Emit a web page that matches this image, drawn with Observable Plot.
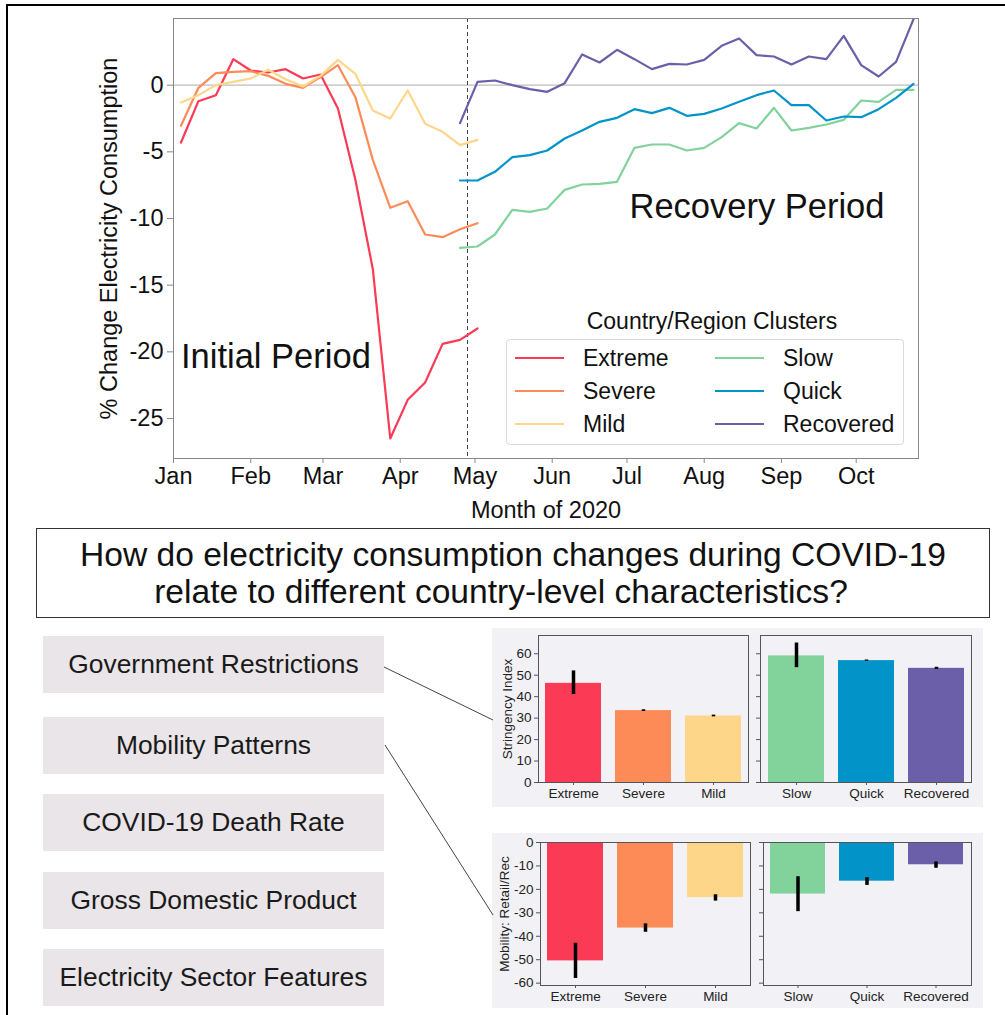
<!DOCTYPE html>
<html><head><meta charset="utf-8">
<script src="https://cdn.jsdelivr.net/npm/d3@7"></script>
<script src="https://cdn.jsdelivr.net/npm/@observablehq/plot@0.6"></script>
<style>
body{margin:0;background:#fff;font-family:"Liberation Sans",Arial,sans-serif;color:#111;}
#fig{position:relative;width:1005px;height:1015px;overflow:hidden;background:#fff;}
.abs{position:absolute;}
.box{position:absolute;background:#e9e5e8;display:flex;align-items:center;justify-content:center;font-size:26.4px;color:#1a1a1a;white-space:nowrap;}
</style></head><body><div id="fig"></div>
<script>
// ---------- data ----------
const clusters = ["Extreme","Severe","Mild","Slow","Quick","Recovered"];
const clusterColors = ["#fb3a55","#fd8b57","#fed68a","#82d29c","#0294c8","#6b5fa9"];

const initialDates = ["2020-01-04","2020-01-11","2020-01-18","2020-01-25","2020-02-01","2020-02-08","2020-02-15","2020-02-22","2020-02-29","2020-03-07","2020-03-14","2020-03-21","2020-03-28","2020-04-04","2020-04-11","2020-04-18","2020-04-25","2020-05-02"];
const extremeInitial = [-4.3,-1.2,-0.75,1.95,1.1,0.95,1.2,0.5,0.8,-1.75,-7.1,-13.8,-26.5,-23.6,-22.3,-19.4,-19.1,-18.25];
const severeInitial  = [-3.05,-0.2,0.9,1.0,1.05,0.7,0.1,-0.2,0.6,1.5,-0.9,-5.6,-9.2,-8.7,-11.2,-11.4,-10.8,-10.35];
const mildInitial    = [-1.3,-0.75,0.0,0.25,0.5,1.15,0.45,-0.1,0.7,1.9,0.85,-1.9,-2.5,-0.4,-2.9,-3.5,-4.5,-4.1];

const recoveryDates = ["2020-04-25","2020-05-02","2020-05-09","2020-05-16","2020-05-23","2020-05-30","2020-06-06","2020-06-13","2020-06-20","2020-06-27","2020-07-04","2020-07-11","2020-07-18","2020-07-25","2020-08-01","2020-08-08","2020-08-15","2020-08-22","2020-08-29","2020-09-05","2020-09-12","2020-09-19","2020-09-26","2020-10-03","2020-10-10","2020-10-17","2020-10-24"];
const slowRecovery      = [-12.2,-12.1,-11.2,-9.35,-9.5,-9.25,-7.85,-7.45,-7.4,-7.25,-4.7,-4.45,-4.45,-4.9,-4.7,-3.9,-2.85,-3.25,-1.7,-3.4,-3.2,-2.95,-2.6,-1.15,-1.25,-0.35,-0.35];
const quickRecovery     = [-7.15,-7.15,-6.5,-5.4,-5.25,-4.9,-4.0,-3.4,-2.75,-2.45,-1.8,-2.1,-1.7,-2.3,-2.15,-1.75,-1.25,-0.75,-0.4,-1.5,-1.5,-2.65,-2.35,-2.4,-1.8,-0.95,0.1];
const recoveredRecovery = [-2.85,0.25,0.35,0.0,-0.3,-0.5,0.15,2.3,1.7,2.65,1.95,1.2,1.6,1.55,1.9,2.95,3.5,2.25,2.15,1.55,2.15,1.95,3.7,1.5,0.65,1.75,4.95];

const monthTicks = ["2020-01-01","2020-02-01","2020-03-01","2020-04-01","2020-05-01","2020-06-01","2020-07-01","2020-08-01","2020-09-01","2020-10-01"];
const yTicks = [-25,-20,-15,-10,-5,0];
const periodBoundary = "2020-04-28";
const annotations = [
  {date:"2020-01-04", value:-20.4, text:"Initial Period"},
  {date:"2020-07-02", value:-9.15, text:"Recovery Period"}
];

const stringencyMean = [46.2,33.5,31.0,59.0,56.8,53.2];
const stringencyLow  = [41.0,33.1,30.6,53.5,56.5,52.7];
const stringencyHigh = [52.0,33.9,31.4,65.0,57.1,53.7];
const stringencyTicks = [0,10,20,30,40,50,60];

const mobilityMean = [-50.5,-36.5,-23.5,-22.0,-16.5,-9.5];
const mobilityLow  = [-58.0,-38.3,-25.0,-29.5,-18.3,-11.0];
const mobilityHigh = [-43.0,-34.7,-22.3,-14.6,-15.0,-8.3];
const mobilityTicks = [-60,-50,-40,-30,-20,-10,0];

const characteristics = ["Government Restrictions","Mobility Patterns","COVID-19 Death Rate","Gross Domestic Product","Electricity Sector Features"];
const questionLines = ["How do electricity consumption changes during COVID-19","relate to different country-level characteristics?"];

// ---------- helpers ----------
const fig = document.getElementById("fig");
const FONT = '"Liberation Sans", Arial, sans-serif';
function place(el, left, top) {
  const d = document.createElement("div");
  d.className = "abs"; d.style.left = left + "px"; d.style.top = top + "px";
  d.appendChild(el); fig.appendChild(d); return d;
}
const colorOf = Object.fromEntries(clusters.map((c,i)=>[c, clusterColors[i]]));

// ---------- main line chart ----------
const lineData = [];
[["Extreme",extremeInitial],["Severe",severeInitial],["Mild",mildInitial]].forEach(([c,arr])=>{
  arr.forEach((v,i)=>lineData.push({date:new Date(initialDates[i]), value:v, cluster:c, seg:c+"-initial"}));
});
[["Slow",slowRecovery],["Quick",quickRecovery],["Recovered",recoveredRecovery]].forEach(([c,arr])=>{
  arr.forEach((v,i)=>lineData.push({date:new Date(recoveryDates[i]), value:v, cluster:c, seg:c+"-recovery"}));
});

const main = Plot.plot({
  width: 1005, height: 530,
  marginLeft: 173, marginRight: 87, marginTop: 18, marginBottom: 72,
  style: {fontFamily: FONT, fontSize: "23.5px", background: "transparent", color: "#111"},
  x: {type: "utc", domain: [new Date("2020-01-01"), new Date("2020-10-26")]},
  y: {domain: [-28, 5]},
  color: {domain: clusters, range: clusterColors},
  marks: [
    Plot.ruleY([0], {stroke: "#bdbdbd", strokeWidth: 1.3}),
    Plot.ruleX([new Date(periodBoundary)], {stroke: "#444", strokeWidth: 1, strokeDasharray: "4,3"}),
    Plot.line(lineData, {x: "date", y: "value", z: "seg", stroke: "cluster", strokeWidth: 2.2}),
    Plot.text(annotations, {x: d => new Date(d.date), y: "value", text: "text", textAnchor: "start", lineAnchor: "middle", fontSize: 34.5, fill: "#111"}),
    Plot.frame({stroke: "#888"}),
    Plot.axisX({ticks: monthTicks.map(d => new Date(d)), tickFormat: d3.utcFormat("%b"), tickSize: 5, tickPadding: 4, stroke: "#888", fill: "#111",
                label: "Month of 2020", labelAnchor: "center", labelOffset: 59, labelArrow: "none"}),
    Plot.axisY({ticks: yTicks, tickFormat: d => String(d), tickSize: 6, tickPadding: 4, stroke: "#888", fill: "#111",
                label: "% Change Electricity Consumption", labelAnchor: "center", labelOffset: 73, labelArrow: "none"})
  ]
});
place(main, 0, 0);

// ---------- legend ----------
const legTitle = document.createElement("div");
legTitle.style.cssText = "width:400px;text-align:center;font-size:23px;line-height:26px;color:#111;";
legTitle.textContent = "Country/Region Clusters";
place(legTitle, 512, 308);

const leg = document.createElement("div");
leg.style.cssText = "position:relative;width:396px;height:104px;border:1px solid #d9d9d9;border-radius:4px;background:rgba(255,255,255,0.85);";
clusters.forEach((c,i)=>{
  const col = Math.floor(i/3), row = i%3;
  const ln = document.createElement("div");
  ln.style.cssText = `position:absolute;left:${8+col*200}px;top:${17+row*33}px;width:49px;height:0;border-top:2.5px solid ${colorOf[c]};`;
  const tx = document.createElement("div");
  tx.style.cssText = `position:absolute;left:${76+col*200}px;top:${5+row*33}px;font-size:23px;line-height:26px;color:#111;white-space:nowrap;`;
  tx.textContent = c;
  leg.appendChild(ln); leg.appendChild(tx);
});
place(leg, 506, 339);

// ---------- question box ----------
const q = document.createElement("div");
q.style.cssText = "width:952px;height:88px;border:1px solid #333;display:flex;flex-direction:column;align-items:center;justify-content:center;font-size:33.6px;line-height:37px;color:#111;background:#fff;white-space:nowrap;";
questionLines.forEach((t,i)=>{ const s=document.createElement("div"); s.textContent=t; if(i===1) s.style.marginRight="24px"; q.appendChild(s); });
place(q, 36, 528);

// ---------- characteristic boxes ----------
const boxTops = [636, 717, 794, 872, 949];
characteristics.forEach((t,i)=>{
  const b = document.createElement("div");
  b.className = "box";
  b.style.left = "43px"; b.style.top = boxTops[i] + "px"; b.style.width = "341px"; b.style.height = "57px";
  b.textContent = t;
  fig.appendChild(b);
});

// ---------- bar charts ----------
function barPlot(idx, mean, lo, hi, opts) {
  const data = idx.map(i => ({cat: clusters[i], v: mean[i], lo: lo[i], hi: hi[i]}));
  return Plot.plot({
    width: opts.w, height: opts.h,
    marginLeft: opts.ml, marginRight: opts.mr, marginTop: opts.mt, marginBottom: opts.mb,
    style: {fontFamily: FONT, fontSize: "13.5px", background: "#f2f2f6", color: "#222"},
    x: {domain: idx.map(i => clusters[i]), paddingInner: 0.2, paddingOuter: 0.1},
    y: {domain: opts.domain},
    marks: [
      Plot.barY(data, {x: "cat", y: "v", fill: d => colorOf[d.cat]}),
      Plot.ruleX(data, {x: "cat", y1: "lo", y2: "hi", stroke: "#000", strokeWidth: 3.5}),
      Plot.frame({stroke: "#555"}),
      Plot.axisX({tickSize: 3, tickPadding: 3, label: null, stroke: "#555"}),
      opts.showY
        ? Plot.axisY({ticks: opts.ticks, tickFormat: d => String(d), tickSize: 4, tickPadding: 3, stroke: "#555",
                      label: opts.label, labelAnchor: "center", labelOffset: opts.labelOffset, labelArrow: "none"})
        : Plot.axisY({ticks: opts.ticks, tickFormat: () => "", tickSize: 4, stroke: "#555", label: null})
    ]
  });
}
place(barPlot([0,1,2], stringencyMean, stringencyLow, stringencyHigh,
  {w: 261, h: 179, ml: 46, mr: 5, mt: 7, mb: 25, domain: [0, 68.5], ticks: stringencyTicks, showY: true, label: "Stringency Index", labelOffset: 36}), 492, 628);
place(barPlot([3,4,5], stringencyMean, stringencyLow, stringencyHigh,
  {w: 230, h: 179, ml: 7, mr: 12, mt: 7, mb: 25, domain: [0, 68.5], ticks: stringencyTicks, showY: false}), 753, 628);
place(barPlot([0,1,2], mobilityMean, mobilityLow, mobilityHigh,
  {w: 263, h: 175, ml: 48, mr: 5, mt: 9, mb: 23, domain: [-61, 0], ticks: mobilityTicks, showY: true, label: "Mobility: Retail/Rec", labelOffset: 41}), 492, 833);
place(barPlot([3,4,5], mobilityMean, mobilityLow, mobilityHigh,
  {w: 228, h: 175, ml: 8, mr: 12, mt: 9, mb: 23, domain: [-61, 0], ticks: mobilityTicks, showY: false}), 755, 833);

// ---------- connectors & figure border ----------
const ns = "http://www.w3.org/2000/svg";
const ov = document.createElementNS(ns, "svg");
ov.setAttribute("width", 1005); ov.setAttribute("height", 1015);
ov.style.cssText = "position:absolute;left:0;top:0;pointer-events:none;";
[[384,667,493,720],[385,745,493,915]].forEach(([x1,y1,x2,y2])=>{
  const l = document.createElementNS(ns, "line");
  l.setAttribute("x1",x1); l.setAttribute("y1",y1); l.setAttribute("x2",x2); l.setAttribute("y2",y2);
  l.setAttribute("stroke","#444"); l.setAttribute("stroke-width","1");
  ov.appendChild(l);
});
fig.appendChild(ov);
const border = document.createElement("div");
border.style.cssText = "position:absolute;left:6px;top:4px;width:1010px;height:1020px;border-top:2px solid #000;border-left:2px solid #000;pointer-events:none;";
fig.appendChild(border);
</script>
</body></html>
